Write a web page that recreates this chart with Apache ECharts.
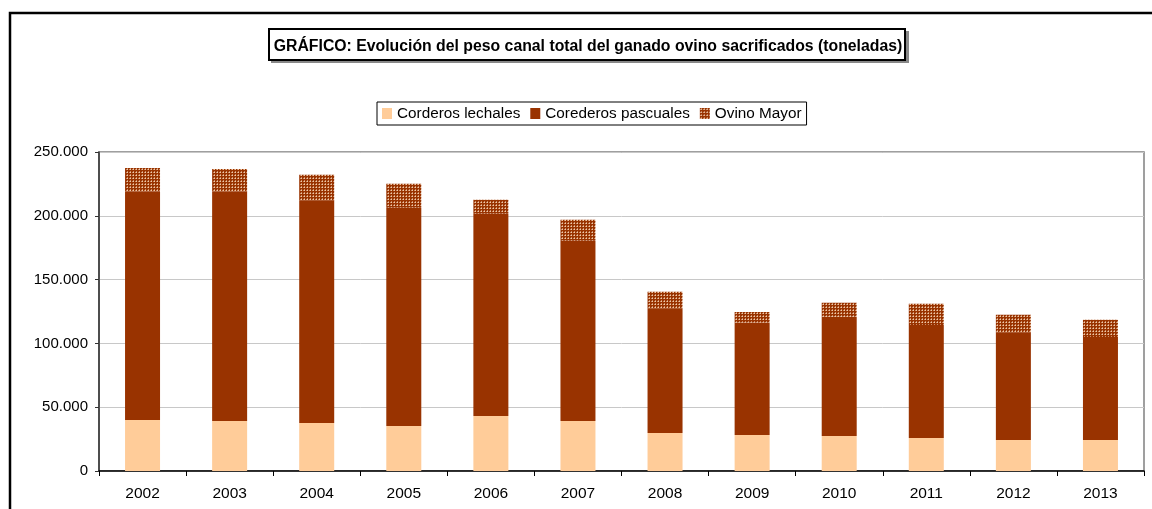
<!DOCTYPE html>
<html><head><meta charset="utf-8">
<script src="https://cdn.jsdelivr.net/npm/echarts@6/dist/echarts.min.js"></script>
<style>html,body{margin:0;padding:0;background:#fff}#c{width:1152px;height:509px}</style>
</head><body><div id="c"></div>
<script>
const years = ['2002','2003','2004','2005','2006','2007','2008','2009','2010','2011','2012','2013'];
const lechales = [40000,39200,37700,35300,43100,39200,29800,28200,27500,25900,24300,24300];
const pascuales = [179100,179900,174100,171000,158500,141200,97300,88200,93300,88600,84000,80800];
const ovinoMayor = [18300,17600,20400,18900,11000,16500,13300,8300,11000,16500,14100,13400];
const yTicks = [0,50000,100000,150000,200000,250000];

function makePattern(){
  const c = document.createElement('canvas');
  c.width = 3; c.height = 3;
  const g = c.getContext('2d');
  g.fillStyle = '#993300'; g.fillRect(0,0,3,3);
  g.fillStyle = '#f2c9a6'; g.fillRect(1,1,1,1);
  g.fillStyle = '#c98a66'; g.fillRect(1,0,1,1); g.fillRect(0,1,1,1);
  return c;
}
const pat = {image: makePattern(), repeat: 'repeat'};

function fmt(v){ return String(v).replace(/\B(?=(\d{3})+(?!\d))/g,'.'); }

const chart = echarts.init(document.getElementById('c'), null, {renderer:'canvas'});
chart.setOption({
  animation:false,
  textStyle:{fontFamily:'Liberation Sans, Arial, sans-serif'},
  graphic:[
    {type:'polyline', shape:{points:[[10,600],[10,13],[1160,13]]}, style:{stroke:'#000', lineWidth:2.5, fill:null}},
    {type:'rect', shape:{x:271,y:31,width:638,height:32}, style:{fill:'#888'}},
    {type:'rect', shape:{x:269,y:29,width:636,height:31}, style:{fill:'#fff', stroke:'#000', lineWidth:2}}
  ],
  title:{
    text:'GRÁFICO: Evolución del peso canal total del ganado ovino sacrificados (toneladas)',
    left:583, top:34, textAlign:'center',
    textStyle:{fontSize:15.8, fontWeight:'bold', color:'#000', fontFamily:'Liberation Sans, Arial, sans-serif'}
  },
  legend:{
    left:377, top:102, itemWidth:10, itemHeight:11, itemGap:10,
    borderColor:'#000', borderWidth:1, padding:[4,5,4,5],
    icon:'rect',
    textStyle:{fontSize:15.3, color:'#000', padding:[0,0,0,0], fontFamily:'Liberation Sans, Arial, sans-serif'},
    data:['Corderos lechales','Corederos pascuales','Ovino Mayor']
  },
  grid:{left:99, right:8, top:152, bottom:38, show:true, borderColor:'#808080', borderWidth:1.5, backgroundColor:'transparent'},
  xAxis:{
    type:'category', data:years,
    axisLine:{lineStyle:{color:'#000', width:1.5}},
    axisTick:{show:true, alignWithLabel:false, length:5, lineStyle:{color:'#000'}},
    axisLabel:{color:'#000', fontSize:15.5, margin:15}
  },
  yAxis:{
    type:'value', min:0, max:250000, interval:50000,
    axisLine:{show:true, lineStyle:{color:'#333', width:1.5}},
    axisTick:{show:true, length:4, lineStyle:{color:'#333'}},
    splitLine:{lineStyle:{color:'#c8c8c8', width:1}},
    axisLabel:{color:'#000', fontSize:15, margin:11, formatter:function(v){return fmt(v);}}
  },
  series:[
    {name:'Corderos lechales', type:'bar', stack:'t', data:lechales, barWidth:35, itemStyle:{color:'#ffcc99'}},
    {name:'Corederos pascuales', type:'bar', stack:'t', data:pascuales, itemStyle:{color:'#993300'}},
    {name:'Ovino Mayor', type:'bar', stack:'t', data:ovinoMayor, itemStyle:{color:pat}}
  ]
});
</script></body></html>
